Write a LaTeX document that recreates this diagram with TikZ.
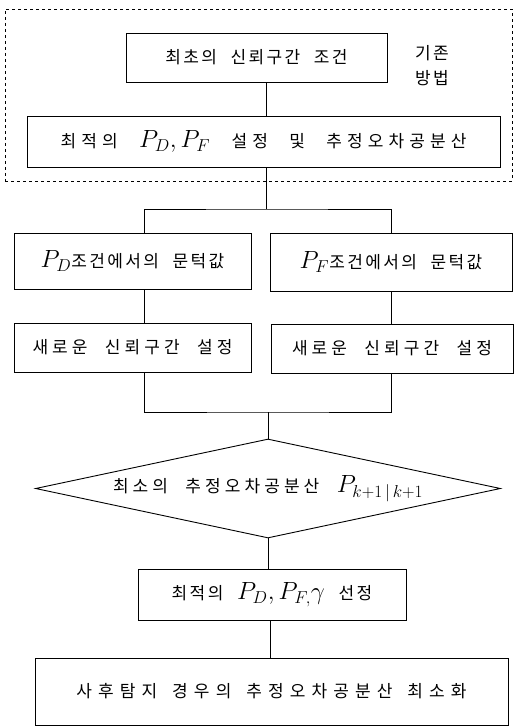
\documentclass[tikz,border=0pt]{standalone}
\usepackage{fontspec}
\usetikzlibrary{shapes.geometric}
\newfontfamily\kr[LetterSpace=14,WordSpace=2.2]{Noto Sans CJK KR}
\newfontfamily\krb[LetterSpace=24,WordSpace=2.2]{Noto Sans CJK KR}
\newfontfamily\krc[LetterSpace=36,WordSpace=1.5]{Noto Sans CJK KR}
\newfontfamily\krw[LetterSpace=30,WordSpace=2.4]{Noto Sans CJK KR}
\newcommand\mth[1]{{\fontsize{23}{23}\selectfont$#1$}}
\begin{document}
\begin{tikzpicture}[x=1pt,y=-1pt,
  box/.style={draw,line width=0.9pt,inner sep=0pt,font=\kr\fontsize{17}{19}\selectfont},
  wide/.style={font=\krb\fontsize{17}{19}\selectfont},
  wider/.style={font=\krc\fontsize{17}{19}\selectfont},
  conn/.style={line width=0.9pt}]
\useasboundingbox (0,0) rectangle (523,727);
\node[draw,dashed,line width=0.8pt,minimum width=507pt,minimum height=172pt,inner sep=0pt] (grp) at (258.5,95) {};
\node[box,minimum width=261pt,minimum height=49pt] (b1) at (256.5,57.5) {최초의 신뢰구간 조건};
\node[align=center,inner sep=0pt,font=\kr\fontsize{17}{25}\selectfont] (lbl) at (432,66) {기존\\방법};
\node[box,minimum width=473pt,minimum height=51pt,font=\krw\fontsize{17}{19}\selectfont] (b2) at (263.5,141.5) {최적의 \mth{P_D,P_F} 설정 및 추정오차공분산};
\node[box,minimum width=237pt,minimum height=56pt] (b3) at (132.5,261) {\mth{P_D}조건에서의 문턱값};
\node[box,minimum width=242pt,minimum height=58pt] (b4) at (391,262) {\mth{P_F}조건에서의 문턱값};
\node[box,wide,minimum width=237pt,minimum height=49pt] (b5) at (132.5,347.5) {새로운 신뢰구간 설정};
\node[box,wide,minimum width=242pt,minimum height=49pt] (b6) at (392,348.5) {새로운 신뢰구간 설정};
\node[box,wide,diamond,aspect=4.7,minimum width=465pt,minimum height=99pt] (dia) at (268,488.5) {최소의 추정오차공분산 \mth{P_{k+1\,|\,k+1}}};
\node[box,minimum width=268pt,minimum height=51pt] (b7) at (272,594.5) {최적의 \mth{P_D, P_{F,}\gamma} 선정};
\node[box,wider,minimum width=473pt,minimum height=67pt] (b8) at (271.5,691.5) {사후탐지 경우의 추정오차공분산 최소화};
\coordinate (sp) at (266,0);
\coordinate (split) at (266,209);
\coordinate (cl) at (144,0);
\coordinate (cr) at (391,0);
\coordinate (join) at (268,412);
\draw[conn] (b1.south -| sp) -- (b2.north -| sp);
\draw[conn] (b2.south -| sp) -- (split);
\draw[conn] (b3.north -| cl) |- (split) -| (b4.north -| cr);
\draw[conn] (b3.south -| cl) -- (b5.north -| cl);
\draw[conn] (b4.south -| cr) -- (b6.north -| cr);
\draw[conn] (b5.south -| cl) |- (join) -| (b6.south -| cr);
\draw[conn] (join) -- (dia.north);
\draw[conn] (dia.south) -- (dia.south |- b7.north);
\draw[conn] (b7.south -| 270,0) -- (b8.north -| 270,0);
\end{tikzpicture}
\end{document}
